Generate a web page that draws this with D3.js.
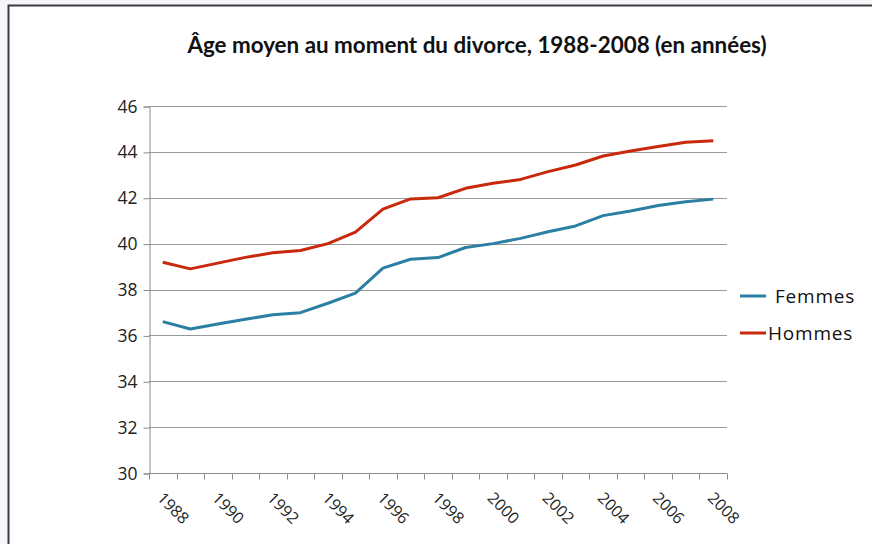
<!DOCTYPE html>
<html>
<head>
<meta charset="utf-8">
<script src="https://cdn.jsdelivr.net/npm/d3@7"></script>
<style>
  body { margin: 0; background: #f4f6f9; }
  svg { display: block; }
</style>
</head>
<body>
<svg width="872" height="544"></svg>
<script>
// data
var years = [1988, 1989, 1990, 1991, 1992, 1993, 1994, 1995, 1996, 1997, 1998,
             1999, 2000, 2001, 2002, 2003, 2004, 2005, 2006, 2007, 2008];
var femmes = [36.6, 36.28, 36.5, 36.7, 36.9, 36.99, 37.4, 37.84, 38.93, 39.32, 39.39,
              39.83, 40.0, 40.23, 40.52, 40.77, 41.22, 41.42, 41.66, 41.83, 41.94];
var hommes = [39.19, 38.9, 39.15, 39.4, 39.6, 39.7, 40.0, 40.5, 41.5, 41.95, 42.0,
              42.41, 42.63, 42.8, 43.14, 43.43, 43.82, 44.04, 44.23, 44.42, 44.49];
var yTicks = [30, 32, 34, 36, 38, 40, 42, 44, 46];
var seriesNames = ['Femmes', 'Hommes'];
var seriesColors = ['#2b7fa3', '#c8290c'];

var svg = d3.select('svg');

// chart frame (white area, open on the right and bottom)
svg.append('rect')
    .attr('x', 8.5).attr('y', 5.5)
    .attr('width', 900).attr('height', 600)
    .attr('fill', '#fff')
    .attr('stroke', '#3a3a3a')
    .attr('stroke-width', 2);

var plot = {l: 149, r: 727, t: 106, b: 473};

var x = d3.scaleBand()
    .domain(years)
    .range([plot.l, plot.r]);

var y = d3.scaleLinear()
    .domain([30, 46])
    .range([plot.b, plot.t]);

// title
svg.append('text')
    .attr('x', 477).attr('y', 53)
    .attr('text-anchor', 'middle')
    .style('font-family', 'Lato, sans-serif')
    .style('font-weight', 700)
    .style('font-size', '22.4px')
    .attr('fill', '#111')
    .text('Âge moyen au moment du divorce, 1988-2008 (en années)');

// gridlines
svg.append('g')
    .selectAll('line')
    .data(yTicks)
    .enter().append('line')
    .attr('x1', plot.l).attr('x2', plot.r)
    .attr('y1', function(d) { return Math.round(y(d)) + 0.5; })
    .attr('y2', function(d) { return Math.round(y(d)) + 0.5; })
    .attr('stroke', '#9a9a9a')
    .attr('stroke-width', 1);

// y axis
var yAxis = svg.append('g')
    .attr('transform', 'translate(' + (plot.l + 0.5) + ',0.5)')
    .call(d3.axisLeft(y).tickValues(yTicks).tickSize(6).tickPadding(6).tickFormat(d3.format('d')));
yAxis.select('.domain').attr('stroke', '#8a8a8a');
yAxis.selectAll('.tick line').attr('stroke', '#8a8a8a');
yAxis.selectAll('text')
    .style('font-family', '"Open Sans", sans-serif')
    .style('font-size', '17.5px')
    .attr('fill', '#222');

// x axis: ticks on category boundaries
var xg = svg.append('g')
    .attr('transform', 'translate(0,' + (Math.round(y(30)) + 0.5) + ')');
xg.append('line')
    .attr('x1', plot.l).attr('x2', plot.r)
    .attr('stroke', '#8a8a8a');
var bounds = years.map(function(d) { return x(d); }).concat([plot.r]);
xg.selectAll('.xt')
    .data(bounds)
    .enter().append('line')
    .attr('class', 'xt')
    .attr('x1', function(d) { return Math.round(d) + 0.5; })
    .attr('x2', function(d) { return Math.round(d) + 0.5; })
    .attr('y1', 0).attr('y2', 6)
    .attr('stroke', '#8a8a8a');
xg.selectAll('.xl')
    .data(years.filter(function(d) { return d % 2 === 0; }))
    .enter().append('text')
    .attr('class', 'xl')
    .attr('transform', function(d) {
        return 'translate(' + (x(d) + x.bandwidth() / 2 + 2) + ',17) rotate(45)';
    })
    .attr('dy', '0.75em')
    .style('font-family', '"Open Sans", sans-serif')
    .style('font-size', '16px')
    .attr('fill', '#222')
    .text(function(d) { return d; });

// lines
var line = d3.line()
    .x(function(d, i) { return x(years[i]) + x.bandwidth() / 2; })
    .y(function(d) { return y(d); });

[femmes, hommes].forEach(function(s, k) {
    svg.append('path')
        .datum(s)
        .attr('d', line)
        .attr('fill', 'none')
        .attr('stroke', seriesColors[k])
        .attr('stroke-width', 3)
        .attr('stroke-linejoin', 'round');
});

// legend
var leg = svg.append('g');
seriesNames.forEach(function(n, k) {
    var ly = 296 + k * 37;
    leg.append('line')
        .attr('x1', 740).attr('x2', 766)
        .attr('y1', ly).attr('y2', ly)
        .attr('stroke', seriesColors[k])
        .attr('stroke-width', 3);
    leg.append('text')
        .attr('x', k === 0 ? 775 : 768).attr('y', ly)
        .attr('dy', '0.35em')
        .style('font-family', '"Open Sans", sans-serif')
        .style('font-size', '19px')
        .style('letter-spacing', '0.8px')
        .attr('fill', '#111')
        .text(n);
});
</script>
</body>
</html>
